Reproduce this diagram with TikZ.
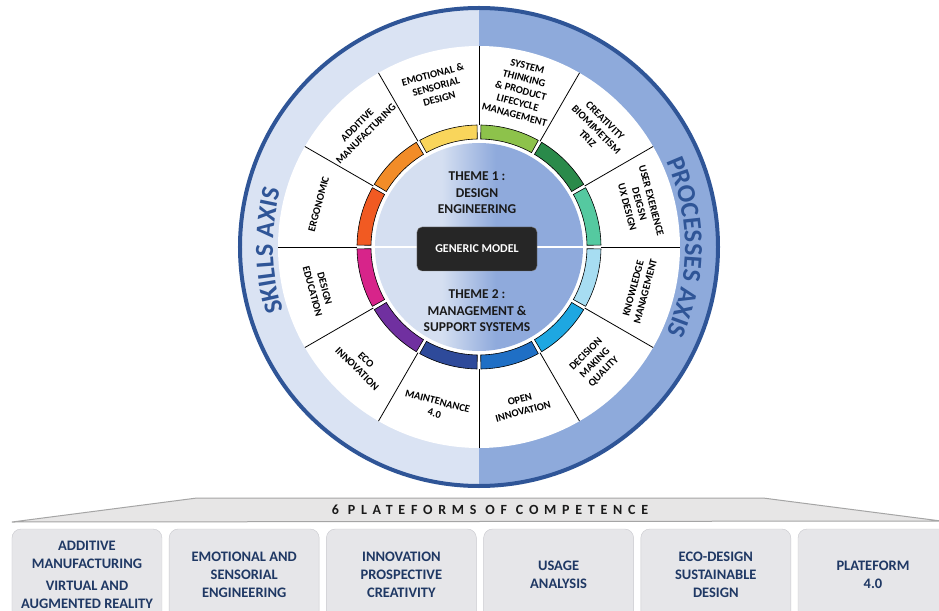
\documentclass[tikz,border=0pt]{standalone}
\usepackage{fontspec}
\setmainfont{Carlito}
\newfontfamily\spacedfont[LetterSpace=41]{Carlito}
\usetikzlibrary{positioning, decorations.text}

\definecolor{bandL}{HTML}{DAE3F3}
\definecolor{bandR}{HTML}{8EAADB}
\definecolor{rimblue}{HTML}{2F5597}
\definecolor{discL}{HTML}{D5DFF1}
\definecolor{discR}{HTML}{8FAADC}
\definecolor{modelfill}{HTML}{262626}
\definecolor{themetext}{HTML}{1A1A1A}
\definecolor{headfill}{HTML}{E7E6E6}
\definecolor{headline}{HTML}{A5A5A5}
\definecolor{platfill}{HTML}{E6E6E9}
\definecolor{platline}{HTML}{C9C9CE}
\definecolor{plattext}{HTML}{1F3864}
\definecolor{arcEmo}{HTML}{F9D55B}
\definecolor{arcAdd}{HTML}{F28C28}
\definecolor{arcErgo}{HTML}{F15A22}
\definecolor{arcEdu}{HTML}{D7248A}
\definecolor{arcEco}{HTML}{7030A0}
\definecolor{arcMaint}{HTML}{2E4A9A}
\definecolor{arcOpen}{HTML}{1F6FC5}
\definecolor{arcDec}{HTML}{1EA7E1}
\definecolor{arcKnow}{HTML}{A7DDF2}
\definecolor{arcUser}{HTML}{55C9A0}
\definecolor{arcCrea}{HTML}{2A8A4A}
\definecolor{arcSys}{HTML}{8DC24B}

\pgfdeclarehorizontalshading{discshade}{100bp}{color(0bp)=(discL);
    color(41bp)=(discL); color(54bp)=(discR); color(100bp)=(discR)}

\newcommand{\axisfont}{\bfseries\fontsize{26}{26}\selectfont\color{rimblue}}

\tikzstyle{divider} = [draw=black, line width=0.8pt]
\tikzstyle{ringarc} = [draw=black, line width=0.6pt]
\tikzstyle{seglabel} = [align=center, inner sep=0pt,
    font=\bfseries\fontsize{10.5}{12.5}\selectfont]
\tikzstyle{theme} = [align=center, text=themetext,
    font=\bfseries\fontsize{13.5}{16.5}\selectfont]
\tikzstyle{modelbox} = [draw=gray, fill=modelfill, rounded corners=5pt,
    minimum width=120pt, minimum height=44pt, text=white,
    font=\bfseries\fontsize{12}{14}\selectfont]
\tikzstyle{headtext} = [text=themetext,
    font=\spacedfont\bfseries\fontsize{14}{16}\selectfont]
\tikzstyle{platbox} = [draw=platline, fill=platfill, rounded corners=9pt,
    minimum width=150pt, minimum height=91pt, align=center,
    text=plattext, font=\bfseries\fontsize{14.5}{18}\selectfont]

\begin{document}
\begin{tikzpicture}[x=1pt, y=1pt, node distance=157.2pt]

    \useasboundingbox (-479,-363) rectangle (460,247);
    \clip (-479,-363) rectangle (460,247);
    \fill[white] (-479,-363) rectangle (460,247);

    \fill[bandL] (90:239) arc (90:270:239) -- cycle;
    \fill[bandR] (-90:239) arc (-90:90:239) -- cycle;
    \draw[rimblue, line width=4pt] (0,0) circle (239);
    \fill[white] (0,0) circle (201);

    \path[decorate, decoration={text along path, text align=center,
        text={|\axisfont|SKILLS AXIS}}] (211:206) arc (211:151:206);
    \path[decorate, decoration={text along path, text align=center,
        text={|\axisfont|PROCESSES AXIS}}] (30:206) arc (30:-30:206);

    \draw[divider] (0:122) -- (0:201);
    \draw[divider] (30:122) -- (30:201);
    \draw[divider] (60:122) -- (60:201);
    \draw[divider] (90:122) -- (90:201);
    \draw[divider] (120:122) -- (120:201);
    \draw[divider] (150:122) -- (150:201);
    \draw[divider] (180:122) -- (180:201);
    \draw[divider] (210:122) -- (210:201);
    \draw[divider] (240:122) -- (240:201);
    \draw[divider] (270:122) -- (270:201);
    \draw[divider] (300:122) -- (300:201);
    \draw[divider] (330:122) -- (330:201);

    \filldraw[ringarc, fill=arcEmo] (90.9:108) arc (90.9:119.1:108) -- (119.1:122) arc (119.1:90.9:122) -- cycle;
    \filldraw[ringarc, fill=arcAdd] (120.9:108) arc (120.9:149.1:108) -- (149.1:122) arc (149.1:120.9:122) -- cycle;
    \filldraw[ringarc, fill=arcErgo] (150.9:108) arc (150.9:179.1:108) -- (179.1:122) arc (179.1:150.9:122) -- cycle;
    \filldraw[ringarc, fill=arcEdu] (180.9:108) arc (180.9:209.1:108) -- (209.1:122) arc (209.1:180.9:122) -- cycle;
    \filldraw[ringarc, fill=arcEco] (210.9:108) arc (210.9:239.1:108) -- (239.1:122) arc (239.1:210.9:122) -- cycle;
    \filldraw[ringarc, fill=arcMaint] (240.9:108) arc (240.9:269.1:108) -- (269.1:122) arc (269.1:240.9:122) -- cycle;
    \filldraw[ringarc, fill=arcOpen] (270.9:108) arc (270.9:299.1:108) -- (299.1:122) arc (299.1:270.9:122) -- cycle;
    \filldraw[ringarc, fill=arcDec] (300.9:108) arc (300.9:329.1:108) -- (329.1:122) arc (329.1:300.9:122) -- cycle;
    \filldraw[ringarc, fill=arcKnow] (330.9:108) arc (330.9:359.1:108) -- (359.1:122) arc (359.1:330.9:122) -- cycle;
    \filldraw[ringarc, fill=arcUser] (0.9:108) arc (0.9:29.1:108) -- (29.1:122) arc (29.1:0.9:122) -- cycle;
    \filldraw[ringarc, fill=arcCrea] (30.9:108) arc (30.9:59.1:108) -- (59.1:122) arc (59.1:30.9:122) -- cycle;
    \filldraw[ringarc, fill=arcSys] (60.9:108) arc (60.9:89.1:108) -- (89.1:122) arc (89.1:60.9:122) -- cycle;

    \shade[shading=discshade] (0,0) circle (104);
    \draw[white, line width=1.2pt] (180:104) -- (0:104);

    \node[modelbox](model) at (-2,-2) {GENERIC MODEL};
    \node[theme, above of=model, node distance=56pt](theme1)
        {THEME 1 :\\DESIGN\\ENGINEERING};
    \node[theme, below of=model, node distance=62pt](theme2)
        {THEME 2 :\\MANAGEMENT \&\\SUPPORT SYSTEMS};

    \node[seglabel, rotate=15](emo) at (105:166) {EMOTIONAL \&\\SENSORIAL\\DESIGN};
    \node[seglabel, rotate=45](addit) at (135:166) {ADDITIVE\\MANUFACTURING};
    \node[seglabel, rotate=75](ergo) at (165:166) {ERGONOMIC};
    \node[seglabel, rotate=-75](deseduc) at (195:166) {DESIGN\\EDUCATION};
    \node[seglabel, rotate=-45](eco) at (225:166) {ECO\\INNOVATION};
    \node[seglabel, rotate=-15](maint) at (255:166) {MAINTENANCE\\4.0};
    \node[seglabel, rotate=15](openinn) at (285:164) {OPEN\\INNOVATION};
    \node[seglabel, rotate=45](decis) at (315:164) {DECISION\\MAKING\\QUALITY};
    \node[seglabel, rotate=75](knowl) at (345:166) {KNOWLEDGE\\MANAGEMENT};
    \node[seglabel, rotate=-75](userexp) at (15:166) {USER EXERIENCE\\DEIGSN\\UX DESIGN};
    \node[seglabel, rotate=-45](creat) at (45:166) {CREATIVITY\\BIOMIMETISM\\TRIZ};
    \node[seglabel, rotate=-15](systh) at (75:162) {SYSTEM\\THINKING\\\& PRODUCT\\LIFECYCLE\\MANAGEMENT};

    \filldraw[fill=headfill, draw=headline, line width=1pt]
        (-467,-275) -- (-282,-251) -- (284,-251) -- (462,-274) -- cycle;
    \node[headtext](head) at (11,-263) {6 PLATEFORMS OF COMPETENCE};

    \node[platbox](platA) at (-392,-327.5)
        {ADDITIVE\\MANUFACTURING\\[4pt]VIRTUAL AND\\AUGMENTED REALITY};
    \node[platbox, right of=platA](platB) {EMOTIONAL AND\\SENSORIAL\\ENGINEERING};
    \node[platbox, right of=platB](platC) {INNOVATION\\PROSPECTIVE\\CREATIVITY};
    \node[platbox, right of=platC](platD) {USAGE\\ANALYSIS};
    \node[platbox, right of=platD](platE) {ECO-DESIGN\\SUSTAINABLE\\DESIGN};
    \node[platbox, right of=platE](platF) {PLATEFORM\\4.0};

\end{tikzpicture}
\end{document}
